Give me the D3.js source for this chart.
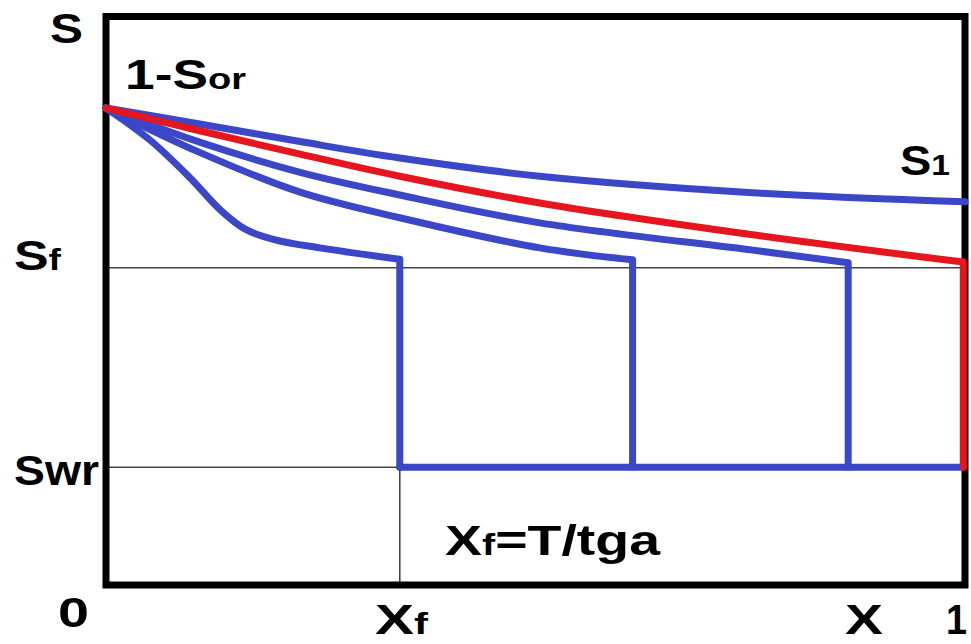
<!DOCTYPE html>
<html>
<head>
<meta charset="utf-8">
<script src="https://cdn.jsdelivr.net/npm/d3@7"></script>
<style>
  html, body { margin: 0; padding: 0; background: #fff; }
  svg { display: block; }
  text { font-family: "Liberation Sans", Arial, sans-serif; font-weight: bold; fill: #000; }
</style>
</head>
<body>
<svg id="chart" width="971" height="644"></svg>
<script>
// ---- data (dimensionless x and saturation S) ----
const S_INIT = 0.839;   // 1 - Sor
const S_F = 0.558;      // Sf
const S_WR = 0.207;     // Swr
const XF_MAIN = 0.342;  // Xf marked on axis

// profile curves: [x, S]
const curveS1  = [[0,0.839],[0.109,0.811],[0.226,0.780],[0.342,0.751],[0.505,0.719],[0.753,0.690],[1.0,0.674]];
const curveRed = [[0,0.839],[0.109,0.799],[0.226,0.758],[0.342,0.719],[0.505,0.672],[0.753,0.616],[0.998,0.568]];
const curveB3  = [[0,0.839],[0.109,0.779],[0.226,0.726],[0.342,0.686],[0.505,0.637],[0.753,0.589],[0.864,0.567]];
const curveB4  = [[0,0.839],[0.109,0.761],[0.226,0.691],[0.342,0.646],[0.505,0.593],[0.613,0.572]];
const curveB5  = [[0,0.839],[0.051,0.783],[0.098,0.716],[0.133,0.660],[0.162,0.626],[0.197,0.607],[0.249,0.593],[0.342,0.573]];
// front positions where a curve drops to Swr
const fronts = [0.342, 0.613, 0.864];
const redFront = 0.998;

// ---- layout ----
const svg = d3.select("#chart");
const xs = d3.scaleLinear().domain([0, 1]).range([106, 965]);
const ys = d3.scaleLinear().domain([0, 1]).range([585, 16.5]);

const BLUE = "#3b47c7";
const RED = "#e5161e";
const THIN = "#444";

// thin reference lines
svg.append("line").attr("x1", xs(0)).attr("x2", xs(1)).attr("y1", ys(S_F)).attr("y2", ys(S_F))
  .attr("stroke", THIN).attr("stroke-width", 1.6);
svg.append("line").attr("x1", xs(0)).attr("x2", xs(XF_MAIN)).attr("y1", ys(S_WR)).attr("y2", ys(S_WR))
  .attr("stroke", THIN).attr("stroke-width", 1.6);
svg.append("line").attr("x1", xs(XF_MAIN)).attr("x2", xs(XF_MAIN)).attr("y1", ys(S_WR)).attr("y2", ys(0))
  .attr("stroke", THIN).attr("stroke-width", 1.6);

// frame
svg.append("rect").attr("x", xs(0)).attr("y", ys(1))
  .attr("width", xs(1) - xs(0)).attr("height", ys(0) - ys(1))
  .attr("fill", "none").attr("stroke", "#000").attr("stroke-width", 7);

const line = d3.line().x(d => xs(d[0])).y(d => ys(d[1])).curve(d3.curveCatmullRom.alpha(0.5));

function drawProfile(pts, xf, color) {
  let d = line(pts);
  if (xf !== null) d += `L${xs(xf)},${ys(S_WR)}`;
  svg.append("path").attr("d", d).attr("fill", "none")
    .attr("stroke", color).attr("stroke-width", 7)
    .attr("stroke-linejoin", "round").attr("stroke-linecap", "round");
}

// bottom Swr blue line
svg.append("line").attr("x1", xs(XF_MAIN)).attr("x2", xs(redFront)).attr("y1", ys(S_WR)).attr("y2", ys(S_WR))
  .attr("stroke", BLUE).attr("stroke-width", 7).attr("stroke-linecap", "round");

drawProfile(curveS1, null, BLUE);
drawProfile(curveB5, fronts[0], BLUE);
drawProfile(curveB4, fronts[1], BLUE);
drawProfile(curveB3, fronts[2], BLUE);
drawProfile(curveRed, redFront, RED);

// ---- labels ----
function label(x, y, parts, width) {
  const t = svg.append("text").attr("x", x).attr("y", y);
  parts.forEach(p => t.append("tspan").attr("font-size", p[1]).text(p[0]));
  if (width) t.attr("textLength", width).attr("lengthAdjust", "spacingAndGlyphs");
  return t;
}
const BIG = 42, SUB = 30;
label(50, 43, [["S", BIG]], 33);
label(125, 89, [["1-S", BIG], ["or", SUB]], 121);
label(900, 175, [["S", BIG], ["1", SUB]], 50);
label(14, 270, [["S", BIG], ["f", SUB]], 47);
label(14, 485, [["S", BIG], ["wr", BIG]], 85);
label(58, 627, [["0", BIG]], 31);
label(375, 634, [["X", BIG], ["f", SUB]], 53);
label(845, 634, [["X", BIG]], 38);
label(946, 634, [["1", BIG]], 21);
label(445, 555, [["X", BIG], ["f", SUB], ["=T/tga", BIG]], 215);
</script>
</body>
</html>
